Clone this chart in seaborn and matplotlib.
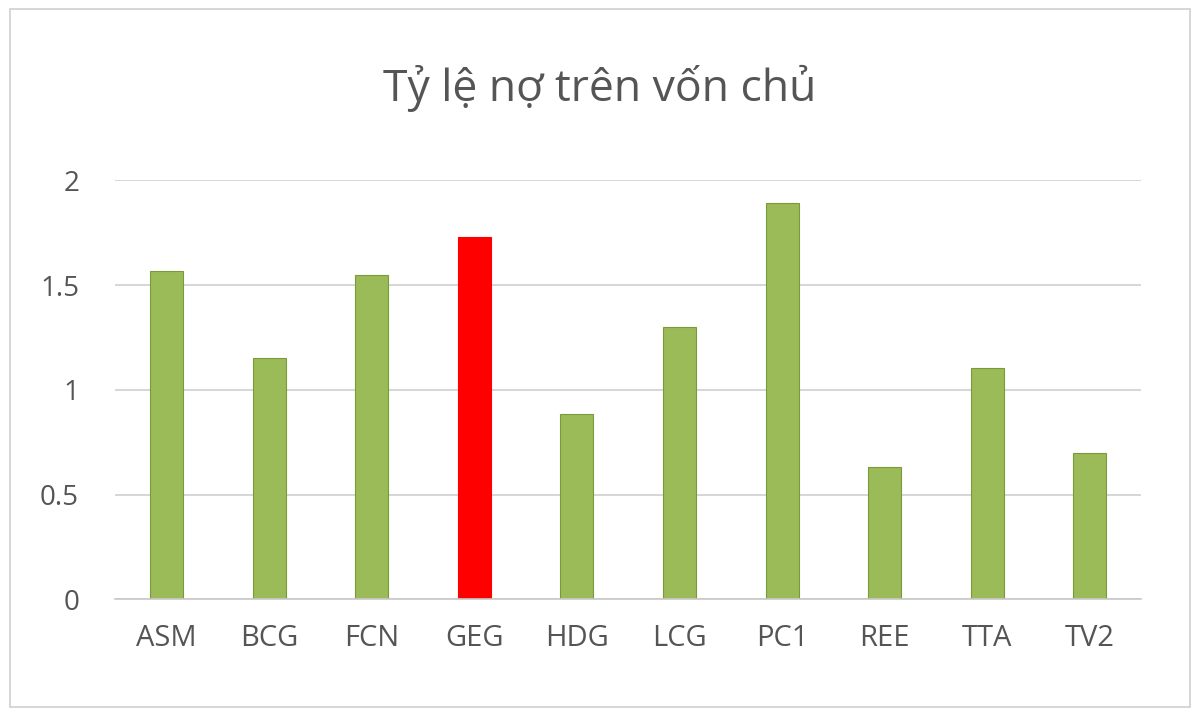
import matplotlib
matplotlib.use("Agg")
import matplotlib.pyplot as plt
import seaborn as sns
import pandas as pd
from matplotlib.patches import Rectangle

categories = ["ASM", "BCG", "FCN", "GEG", "HDG", "LCG", "PC1", "REE", "TTA", "TV2"]
values = [1.566, 1.15, 1.547, 1.728, 0.883, 1.298, 1.89, 0.63, 1.103, 0.70]
colors = ["#9BBB59" if c != "GEG" else "#FF0000" for c in categories]
edges = ["#7A9A3A" if c != "GEG" else "#FF0000" for c in categories]

sns.set_theme(style="white")
plt.rcParams['font.family'] = ['Open Sans', 'DejaVu Sans']

fig = plt.figure(figsize=(12, 7.16), dpi=100)
ax = fig.add_axes([0.096, 0.163, 0.855, 0.585])
df = pd.DataFrame({"cat": categories, "val": values})
sns.barplot(data=df, x="cat", y="val", hue="cat", palette=colors, legend=False,
            width=0.32, ax=ax, saturation=1)
for p, e in zip(ax.patches, edges):
    p.set_edgecolor(e)
    p.set_linewidth(0.8)
ax.set_ylim(0, 2)
ax.set_yticks([0, 0.5, 1, 1.5, 2])
ax.set_yticklabels(["0", "0.5", "1", "1.5", "2"])
ax.set_xlim(-0.5, 9.5)
ax.yaxis.grid(True, color="#D0D0D0", linewidth=1.2)
ax.set_axisbelow(True)
for s in ["top", "right", "left"]:
    ax.spines[s].set_visible(False)
ax.spines["bottom"].set_color("#C8C8C8")
ax.spines["bottom"].set_linewidth(1.2)
ax.tick_params(axis="x", length=0, labelsize=21, labelcolor="#555555", pad=18)
ax.tick_params(axis="y", length=0, labelsize=20, labelcolor="#555555", pad=26)
ax.set_xlabel("")
ax.set_ylabel("")
fig.text(0.5, 0.877, "Tỷ lệ nợ trên vốn chủ", ha="center", va="center",
         fontsize=32, color="#555555")
fig.patches.append(Rectangle((0.008, 0.013), 0.984, 0.974, transform=fig.transFigure,
                             fill=False, edgecolor="#D0D0D0", linewidth=1.2))
fig.savefig("out.png", dpi=100, facecolor="white")
